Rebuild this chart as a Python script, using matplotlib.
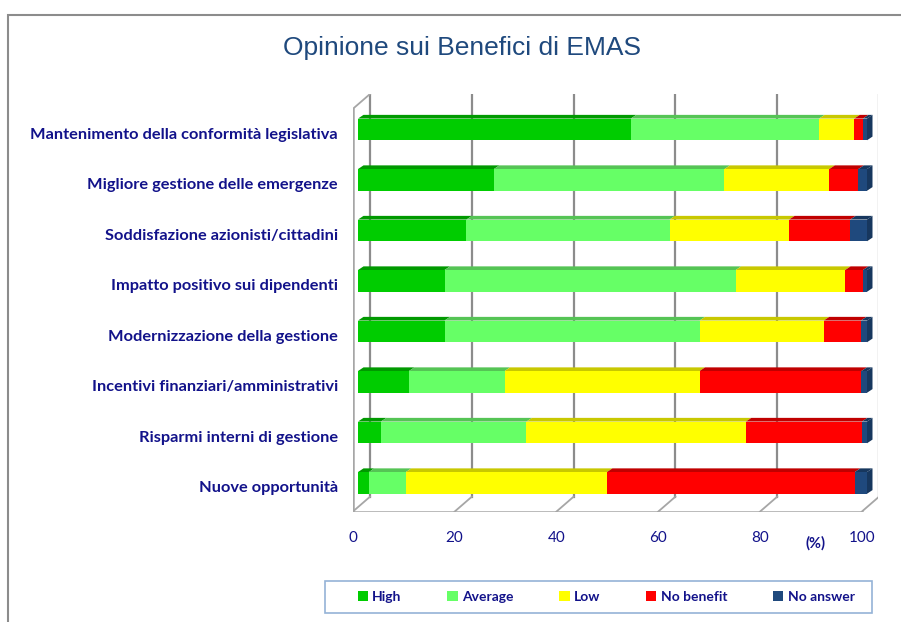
import matplotlib
matplotlib.use("Agg")
import matplotlib.pyplot as plt
import matplotlib.transforms as mtransforms
from matplotlib.patches import Polygon, Rectangle
import numpy as np

categories = [
    "Mantenimento della conformità legislativa",
    "Migliore gestione delle emergenze",
    "Soddisfazione azionisti/cittadini",
    "Impatto positivo sui dipendenti",
    "Modernizzazione della gestione",
    "Incentivi finanziari/amministrativi",
    "Risparmi interni di gestione",
    "Nuove opportunità",
]
series = ["High", "Average", "Low", "No benefit", "No answer"]
high = [53.6, 26.7, 21.3, 17.0, 17.0, 10.0, 4.5, 2.1]
average = [37.0, 45.3, 39.9, 57.2, 50.1, 18.8, 28.6, 7.3]
low = [6.9, 20.6, 23.5, 21.5, 24.4, 38.3, 43.1, 39.5]
no_benefit = [1.7, 5.7, 12.0, 3.5, 7.3, 31.8, 22.8, 48.7]
no_answer = [0.8, 1.7, 3.3, 0.8, 1.2, 1.1, 1.0, 2.4]
ticks = [0, 20, 40, 60, 80, 100]

front_cols = ["#00CC00", "#66FF66", "#FFFF00", "#FF0000", "#1F497D"]
top_cols = ["#009900", "#55C455", "#C8C800", "#C00000", "#17375E"]
navy = "#12128A"

plt.rcParams["font.family"] = ["Lato", "DejaVu Sans"]

fig = plt.figure(figsize=(9.01, 6.22), dpi=100)
ax = fig.add_axes([352.7 / 901, (622 - 511.7) / 622, 525.3 / 901, 417.7 / 622])
X0 = -1.04
ax.set_xlim(X0, X0 + 525.3 / 5.09)
ax.set_ylim(7.57, 7.57 - 417.7 / 50.5)
for s in ax.spines.values():
    s.set_visible(False)

# 3d box: back wall grid and floor
DX, DY = 3.4, -0.297
floor_y = 7.57
top_y = ax.get_ylim()[1]
grid_c = "#8C8C8C"
for t in ticks:
    xb = t + X0 + DX
    ax.plot([xb, xb], [floor_y + DY, top_y], color=grid_c, lw=1.6, zorder=1)
    ax.plot([t + X0, xb], [floor_y, floor_y + DY], color="#A6A6A6", lw=1.3, zorder=1)
ax.plot([X0, 100 + X0], [floor_y, floor_y], color="#A6A6A6", lw=1.8, zorder=1)
front_top = top_y - DY
ax.plot([X0, X0], [floor_y, front_top], color="#A6A6A6", lw=1.8, zorder=1)
ax.plot([X0, X0 + DX], [front_top, top_y], color="#A6A6A6", lw=1.3, zorder=1)
for k in range(len(categories) + 1):
    yk = k - 0.5
    if yk > front_top:
        ax.plot([X0 - 0.9, X0], [yk, yk], color="#A6A6A6", lw=1.2, zorder=1)

# bars
data = np.array([high, average, low, no_benefit, no_answer])
y = np.arange(len(categories))
h = 0.43
bdx, bdy = 1.08, -0.073
left = np.zeros(len(categories))
for j, name in enumerate(series):
    ax.barh(y, data[j], left=left, height=h, color=front_cols[j], label=name, zorder=3)
    for i in range(len(categories)):
        l, r = left[i], left[i] + data[j][i]
        yt = y[i] - h / 2
        ax.add_patch(Polygon([(l, yt), (r, yt), (r + bdx, yt + bdy), (l + bdx, yt + bdy)],
                             closed=True, color=top_cols[j], zorder=2.5, lw=0))
        if j == len(series) - 1:
            ax.add_patch(Polygon([(r, yt), (r + bdx, yt + bdy), (r + bdx, yt + h + bdy), (r, yt + h)],
                                 closed=True, color=top_cols[j], zorder=2.5, lw=0))
    left += data[j]

ax.set_yticks(y)
ax.set_yticklabels(categories, fontsize=11.8, fontweight="bold", color=navy)
ax.tick_params(axis="y", length=0, pad=10.5)
shift = mtransforms.ScaledTranslation(0, -4 / 100, fig.dpi_scale_trans)
for lbl in ax.get_yticklabels():
    lbl.set_transform(lbl.get_transform() + shift)
ax.set_xticks([t + X0 for t in ticks])
ax.set_xticklabels([str(t) for t in ticks], fontsize=11, color=navy)
ax.tick_params(axis="x", length=0, pad=14)

fig.text(815 / 901, 1 - 543 / 622, "(%)", fontsize=10.5, fontweight="bold", color=navy,
         ha="center", va="center")

fig.text(462 / 901, 1 - 48 / 622, "Opinione sui Benefici di EMAS", fontsize=19,
         color="#1F497D", ha="center", va="center", family=["Liberation Sans"])

# outer chart border
fig.patches.append(Rectangle((8 / 901, -0.1), 1.2, 1 - 15 / 622 + 0.1, transform=fig.transFigure,
                             fill=False, edgecolor="#8C8C8C", lw=1.5, clip_on=False))

# legend frame
fig.patches.append(Rectangle((325 / 901, 1 - 613 / 622), 547 / 901, 32 / 622,
                             transform=fig.transFigure, fill=False,
                             edgecolor="#95B3D7", lw=1.2))
leg = fig.legend(loc="center", bbox_to_anchor=(606 / 901, 1 - 597 / 622), ncol=5,
                 frameon=False,
                 handlelength=0.75, handleheight=0.75, handletextpad=0.3,
                 columnspacing=3.3, borderpad=0.3,
                 prop={"weight": "bold", "size": 10})
for t in leg.get_texts():
    t.set_color(navy)

fig.savefig("out.png", dpi=100)
